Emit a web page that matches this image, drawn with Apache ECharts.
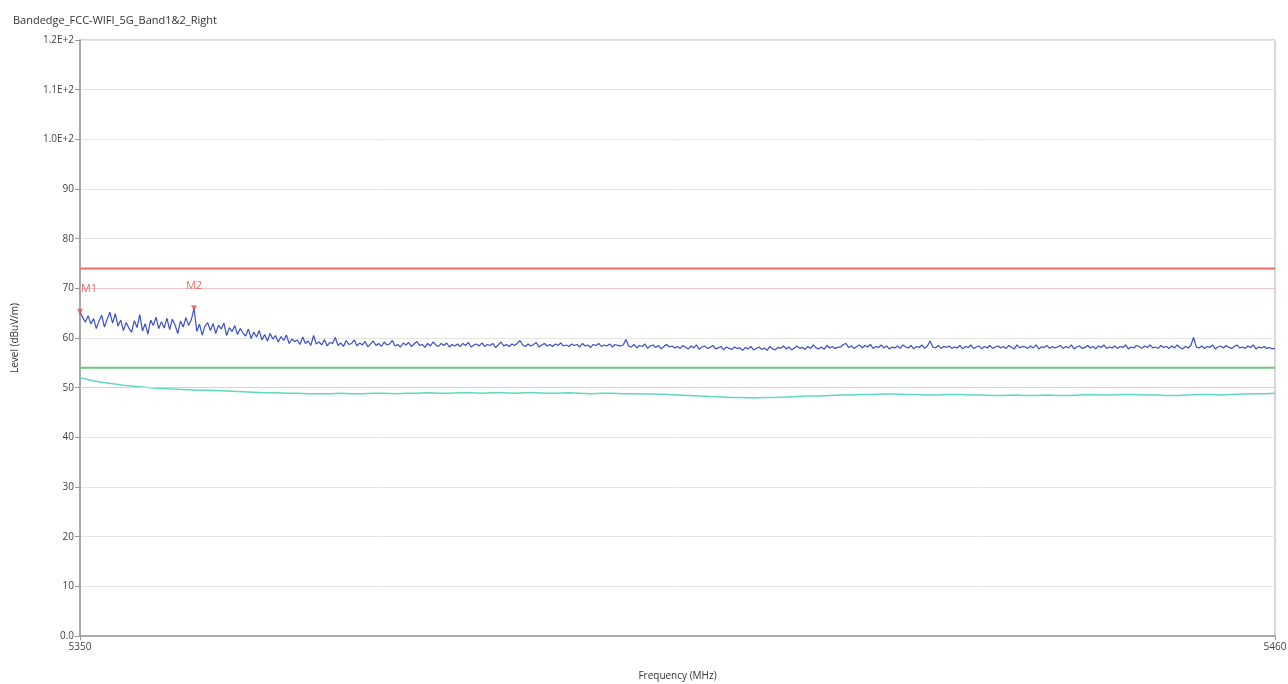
<!DOCTYPE html>
<html>
<head>
<meta charset="utf-8">
<script src="https://cdn.jsdelivr.net/npm/echarts@6/dist/echarts.min.js"></script>
<style>
  html, body { margin: 0; padding: 0; background: #fff; }
  #main { width: 1288px; height: 684px; }
</style>
</head>
<body>
<div id="main"></div>
<script>
// sweep range (MHz)
var freqStart = 5350;
var freqEnd = 5460;

// peak trace, 0.25 MHz step
var peakStep = 0.25;
var peakLevels = [
  65.3, 64.1, 63.2, 64.5, 62.8, 63.9, 61.9, 63.4, 64.6, 62.2, 63.8, 65.2, 63.0, 64.9, 62.4, 63.6, 61.5, 63.1, 62.0, 61.2,
  63.5, 62.1, 64.7, 61.4, 62.9, 60.8, 63.6, 62.5, 64.2, 61.9, 63.3, 62.0, 64.0, 61.7, 63.8, 62.6, 60.9, 63.4, 62.2, 64.1,
  62.5, 63.7, 66.0, 61.3, 62.8, 60.6, 62.4, 63.1, 61.5, 62.9, 60.9, 62.6, 61.8, 63.0, 60.5, 62.1, 61.3, 62.5, 60.7, 61.9,
  61.0, 60.4, 61.8, 59.9, 61.2, 60.2, 61.5, 59.6, 60.7, 59.4, 60.9, 59.8, 60.5, 59.2, 60.3, 59.5, 60.6, 58.9, 59.8, 59.3,
  59.6, 58.7, 60.2, 58.9, 59.4, 58.5, 60.5, 58.8, 59.2, 58.6, 59.7, 58.4, 59.1, 58.9, 60.1, 58.5, 59.0, 58.3, 59.5, 58.7,
  58.9, 59.6, 58.4, 59.0, 58.6, 59.3, 58.2, 58.8, 59.4, 58.5, 58.9, 58.3, 59.2, 58.6, 58.8, 59.5, 58.4, 58.7, 58.2, 59.0,
  58.6, 59.1, 58.3, 58.8, 59.3, 58.5, 58.7, 58.1, 58.9, 58.4, 59.2, 58.6, 58.3, 58.9, 58.5, 59.0, 58.2, 58.7, 58.4, 58.8,
  58.3, 58.9, 58.5, 59.1, 58.2, 58.6, 58.8, 58.4, 59.0, 58.3, 58.7, 58.5, 58.9, 58.1, 58.6, 59.2, 58.4, 58.7, 58.3, 58.8,
  58.5, 58.9, 59.5, 58.6, 58.3, 58.8, 58.4, 58.7, 59.1, 58.2, 58.6, 58.9, 58.4, 58.7, 58.3, 58.8, 58.5, 59.0, 58.4, 58.6,
  58.3, 58.8, 58.5, 58.7, 58.2, 58.9, 58.4, 58.6, 58.1, 58.7, 58.5, 58.9, 58.3, 58.6, 58.4, 58.8, 58.2, 58.7, 58.5, 58.4,
  58.6, 59.7, 58.4, 58.2, 58.7, 58.0, 58.5, 58.3, 58.8, 57.9, 58.4, 58.6, 58.1, 58.5, 57.8, 58.3, 58.7, 58.2, 58.4, 58.0,
  58.3, 57.9, 58.5, 58.1, 57.8, 58.4, 58.0, 58.6, 57.7, 58.2, 58.4, 57.9, 58.1, 58.5, 57.8, 58.0, 58.3, 57.6, 58.2, 57.9,
  57.7, 58.2, 57.9, 58.0, 57.5, 58.1, 57.8, 58.3, 57.6, 57.9, 58.2, 57.7, 58.0, 57.5, 58.3, 57.8, 57.6, 58.1, 57.9, 58.4,
  57.8, 58.2, 57.6, 58.0, 58.4, 57.9, 58.1, 57.7, 58.3, 57.9, 58.6, 58.0, 57.8, 58.2, 57.7, 58.5, 58.0, 58.3, 57.9, 58.1,
  58.2, 58.7, 58.9, 58.1, 58.4, 57.9, 58.3, 58.6, 58.0, 58.5, 58.2, 58.7, 57.9, 58.3, 58.1, 58.6, 58.0, 58.4, 57.8, 58.2,
  58.0, 58.4, 57.9, 58.6, 58.2, 58.0, 58.5, 57.8, 58.3, 58.1, 58.6, 57.9, 58.4, 59.4, 58.2, 58.0, 58.5, 57.9, 58.3, 58.1,
  58.4, 57.9, 58.2, 58.0, 58.5, 57.8, 58.3, 58.1, 58.6, 57.9, 58.2, 58.4, 57.8, 58.3, 58.0, 58.5, 57.9, 58.2, 58.4, 58.0,
  58.3, 57.9, 58.5, 58.1, 57.8, 58.6, 58.0, 58.3, 58.2, 57.9, 58.4, 58.0, 58.6, 57.8, 58.2, 58.1, 58.5, 57.9, 58.3, 58.0,
  58.2, 58.5, 57.9, 58.3, 58.0, 58.6, 57.8, 58.2, 58.4, 57.9, 58.1, 58.5, 58.0, 58.3, 57.8, 58.4, 58.1, 58.6, 57.9, 58.2,
  58.0, 58.4, 57.9, 58.3, 58.1, 58.6, 57.8, 58.2, 58.0, 58.5, 58.3, 57.9, 58.4, 58.1, 58.6, 58.0, 58.2, 57.9, 58.5, 58.1,
  58.3, 57.9, 58.4, 58.0, 58.6, 58.1, 57.8, 58.3, 58.0, 58.5, 60.1, 58.2, 58.0, 58.4, 57.9, 58.3, 58.1, 58.6, 57.8, 58.2,
  58.4, 58.0, 58.5, 58.1, 57.9, 58.3, 58.6, 58.0, 58.2, 57.9, 58.4, 58.1, 58.6, 57.8, 58.2, 58.0, 58.3, 57.9, 58.1, 57.8,
  57.9
];

// average trace, 1 MHz step
var avgStep = 1;
var avgLevels = [
  52.0, 51.5, 51.1, 50.8, 50.5, 50.3, 50.1, 49.9, 49.8, 49.7,
  49.6, 49.5, 49.5, 49.4, 49.3, 49.2, 49.1, 49.0, 49.0, 48.9,
  48.9, 48.8, 48.8, 48.8, 48.9, 48.8, 48.8, 48.9, 48.9, 48.8,
  48.9, 48.9, 49.0, 48.9, 48.9, 49.0, 49.0, 48.9, 49.0, 49.0,
  48.9, 49.0, 49.0, 48.9, 48.9, 49.0, 48.9, 48.8, 48.9, 48.9,
  48.8, 48.8, 48.7, 48.7, 48.6, 48.5, 48.4, 48.3, 48.2, 48.1,
  48.0, 48.0, 47.9, 48.0, 48.0, 48.1, 48.2, 48.3, 48.3, 48.4,
  48.5, 48.5, 48.6, 48.6, 48.7, 48.7, 48.6, 48.6, 48.5, 48.5,
  48.6, 48.6, 48.5, 48.5, 48.4, 48.4, 48.5, 48.4, 48.4, 48.5,
  48.4, 48.4, 48.5, 48.6, 48.5, 48.5, 48.6, 48.6, 48.5, 48.5,
  48.4, 48.4, 48.5, 48.6, 48.6, 48.5, 48.6, 48.7, 48.8, 48.8,
  48.9
];

// limit lines (dBuV/m)
var peakLimit = 74;
var avgLimit = 54;
var refLines = [70, 50];

// markers
var markerNames = ['M1', 'M2'];
var markerFreqs = [5350, 5360.5];
var markerLevels = [65.3, 66.0];

// axis labels
var xLabels = [5350, 5460];

function toPairs(start, step, levels) {
  var out = [];
  for (var i = 0; i < levels.length; i++) {
    out.push([start + step * i, levels[i]]);
  }
  return out;
}

var fontFam = '"Open Sans", "Noto Sans", sans-serif';
var chart = echarts.init(document.getElementById('main'));

var option = {
  animation: false,
  title: {
    text: 'Bandedge_FCC-WIFI_5G_Band1&2_Right',
    left: 8,
    top: 10,
    textStyle: { fontSize: 11, fontWeight: 'normal', color: '#333', fontFamily: fontFam }
  },
  grid: {
    left: 80, right: 13, top: 40, bottom: 48,
    containLabel: false,
    outerBoundsMode: 'none',
    show: true, borderColor: '#b0b0b0', borderWidth: 1
  },
  xAxis: {
    type: 'value',
    min: freqStart,
    max: freqEnd,
    name: 'Frequency (MHz)',
    nameLocation: 'middle',
    nameGap: 35,
    nameTextStyle: { fontSize: 10, color: '#333', fontFamily: fontFam },
    axisLine: { lineStyle: { color: '#999', width: 1.5 } },
    axisTick: { show: true, customValues: xLabels, length: 4, lineStyle: { color: '#999' } },
    axisLabel: {
      customValues: xLabels, fontSize: 10, color: '#444', fontFamily: fontFam, margin: 6,
      formatter: function (v) { return String(v); }
    },
    splitLine: { show: false }
  },
  yAxis: {
    type: 'value',
    min: 0,
    max: 120,
    interval: 10,
    name: 'Level (dBuV/m)',
    nameLocation: 'middle',
    nameGap: 60,
    nameRotate: 90,
    nameTextStyle: { fontSize: 10, color: '#333', fontFamily: fontFam },
    axisLine: { show: true, lineStyle: { color: '#999', width: 1.5 } },
    axisTick: { show: true, length: 5, lineStyle: { color: '#999' } },
    axisLabel: {
      fontSize: 10, color: '#444', fontFamily: fontFam, margin: 6,
      formatter: function (v) {
        if (v === 0) return '0.0';
        if (v >= 100) return (v / 100).toFixed(1) + 'E+2';
        return String(v);
      }
    },
    splitLine: { show: true, lineStyle: { color: '#e4e4e4', width: 1 } }
  },
  series: [
    {
      name: 'ref',
      type: 'line',
      data: [],
      silent: true,
      markLine: {
        symbol: 'none',
        silent: true,
        label: { show: false },
        lineStyle: { color: '#f2c4d2', width: 1, type: 'solid' },
        data: refLines.map(function (v) { return { yAxis: v }; })
      }
    },
    {
      name: 'Avg',
      type: 'line',
      showSymbol: false,
      data: toPairs(freqStart, avgStep, avgLevels),
      lineStyle: { color: '#5fd8c6', width: 1.5 },
      z: 3
    },
    {
      name: 'Peak',
      type: 'line',
      showSymbol: false,
      data: toPairs(freqStart, peakStep, peakLevels),
      lineStyle: { color: '#3a4fc0', width: 1.2 },
      z: 4
    },
    {
      name: 'Peak limit',
      type: 'line',
      showSymbol: false,
      data: [[freqStart, peakLimit], [freqEnd, peakLimit]],
      lineStyle: { color: '#ee6a6a', width: 2 },
      z: 5
    },
    {
      name: 'Avg limit',
      type: 'line',
      showSymbol: false,
      data: [[freqStart, avgLimit], [freqEnd, avgLimit]],
      lineStyle: { color: '#6cc97c', width: 2 },
      z: 5
    },
    {
      name: 'Markers',
      type: 'scatter',
      symbol: 'triangle',
      symbolRotate: 180,
      symbolSize: 6,
      itemStyle: { color: '#e05050' },
      z: 6,
      data: markerNames.map(function (n, i) {
        return {
          value: [markerFreqs[i], markerLevels[i]],
          label: {
            show: true,
            formatter: n,
            position: 'top',
            distance: 14,
            offset: i === 0 ? [9, 0] : [0, 0],
            fontSize: 11,
            color: '#e04848',
            fontFamily: fontFam
          }
        };
      })
    }
  ]
};

chart.setOption(option);
</script>
</body>
</html>
